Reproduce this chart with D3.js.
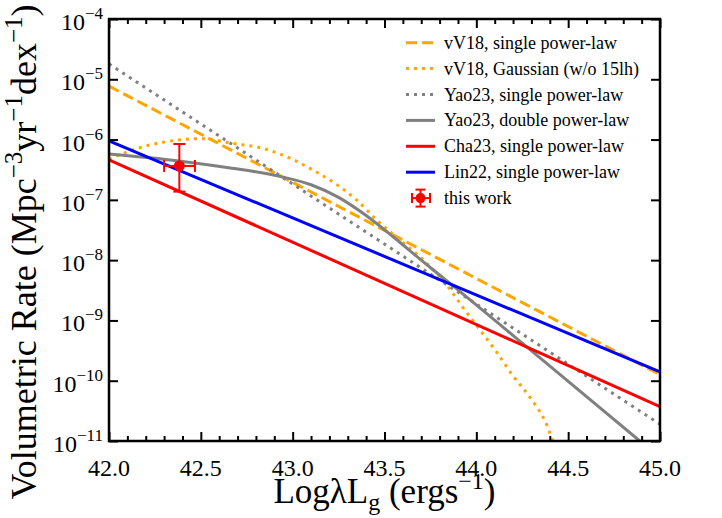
<!DOCTYPE html>
<html>
<head>
<meta charset="utf-8">
<script src="https://cdn.jsdelivr.net/npm/d3@7"></script>
<style>
body { margin: 0; background: #fff; }
</style>
</head>
<body>
<script>
let width = 722, height = 518
let margin = { top: 19, right: 62, bottom: 77, left: 109 }
let serif = 'Liberation Serif'

// straight power laws: values at the two ends of the x range
let lineX = [42.0, 45.0]
let vv18Single = [7.7e-6, 1.26e-10]
let yao23Single = [1.8e-5, 1.9e-11]
let cha23Single = [4.6e-7, 3.7e-11]
let lin22Single = [9.5e-7, 1.4e-10]

// vV18 Gaussian (w/o 15lh)
let gaussX = [42.0, 42.033, 42.187, 42.35, 42.505, 42.668, 42.84, 43.0, 43.103, 43.23, 43.348, 43.457,
    43.584, 43.711, 43.838, 43.929, 44.02, 44.11, 44.2, 44.29, 44.383, 44.417, 44.45]
let gaussY = [4.68e-7, 5.2e-7, 7.62e-7, 9.59e-7, 1.035e-6, 8.69e-7, 7.1e-7, 4.7e-7, 3.21e-7, 1.88e-7, 9.95e-8, 4.65e-8,
    2.16e-8, 1.01e-8, 3.88e-9, 1.61e-9, 6.95e-10, 3.0e-10, 1.2e-10, 5.4e-11, 1.86e-11, 1.0e-11, 6.3e-12]

// Yao23 double power-law
let dplX = [42.0, 42.38, 42.66, 42.93, 43.1, 43.25, 43.4, 43.55, 43.7, 43.85, 44.35, 44.89, 45.0]
let dplY = [5.75e-7, 4.42e-7, 3.39e-7, 2.45e-7, 1.78e-7, 1.10e-7, 5.5e-8, 2.4e-8, 1.0e-8, 4.27e-9, 2.34e-10, 1.0e-11, 5.25e-12]

// this work
let pointX = 42.383, pointXLo = 42.30, pointXHi = 42.468
let pointY = 3.65e-7, pointYLo = 1.37e-7, pointYHi = 8.45e-7

let decades = [-11, -10, -9, -8, -7, -6, -5, -4]
let xMajor = [42.0, 42.5, 43.0, 43.5, 44.0, 44.5, 45.0]

let series = [
    { name: 'vV18, single power-law', xs: lineX, ys: vv18Single, color: '#FFA500', dash: '11,5', curve: false },
    { name: 'vV18, Gaussian (w/o 15lh)', xs: gaussX, ys: gaussY, color: '#FFA500', dash: '3,5', curve: true },
    { name: 'Yao23, single power-law', xs: lineX, ys: yao23Single, color: '#808080', dash: '3,5', curve: false },
    { name: 'Yao23, double power-law', xs: dplX, ys: dplY, color: '#808080', dash: null, curve: true },
    { name: 'Cha23, single power-law', xs: lineX, ys: cha23Single, color: '#FF0000', dash: null, curve: false },
    { name: 'Lin22, single power-law', xs: lineX, ys: lin22Single, color: '#0000FF', dash: null, curve: false }
]

let svg = d3.select('body').append('svg')
    .attr('width', width).attr('height', height)
    .attr('font-family', serif)

let x = d3.scaleLinear().domain([42, 45]).range([margin.left, width - margin.right])
let y = d3.scaleLog().domain([1e-11, 1e-4]).range([height - margin.bottom, margin.top])

// small serif text falls back to sans here, so text is set at twice the size and scaled down
let k = 2
function label(px, py, size, anchor) {
    return svg.append('text')
        .attr('transform', `translate(${px},${py}) scale(${1 / k})`)
        .attr('font-family', serif).style('font-family', serif)
        .attr('font-size', size * k).attr('text-anchor', anchor || 'start')
}

svg.append('clipPath').attr('id', 'clip')
    .append('rect')
    .attr('x', margin.left).attr('y', margin.top)
    .attr('width', width - margin.left - margin.right)
    .attr('height', height - margin.top - margin.bottom)

let plot = svg.append('g').attr('clip-path', 'url(#clip)')

series.forEach(s => {
    let line = d3.line()
        .x(d => x(d[0])).y(d => y(d[1]))
        .curve(s.curve ? d3.curveMonotoneX : d3.curveLinear)
    plot.append('path')
        .datum(s.xs.map((v, i) => [v, s.ys[i]]))
        .attr('d', line)
        .attr('fill', 'none')
        .attr('stroke', s.color)
        .attr('stroke-width', 3)
        .attr('stroke-dasharray', s.dash)
})

// error bar point
let red = '#FF0000'
function errorPoint(g, cx, cy, x0, x1, y0, y1, cap, r) {
    g.append('line').attr('x1', x0).attr('x2', x1).attr('y1', cy).attr('y2', cy)
    g.append('line').attr('x1', cx).attr('x2', cx).attr('y1', y0).attr('y2', y1)
    g.append('line').attr('x1', x0).attr('x2', x0).attr('y1', cy - cap).attr('y2', cy + cap)
    g.append('line').attr('x1', x1).attr('x2', x1).attr('y1', cy - cap).attr('y2', cy + cap)
    g.append('line').attr('x1', cx - cap).attr('x2', cx + cap).attr('y1', y0).attr('y2', y0)
    g.append('line').attr('x1', cx - cap).attr('x2', cx + cap).attr('y1', y1).attr('y2', y1)
    g.selectAll('line').attr('stroke', red).attr('stroke-width', 2)
    g.append('circle').attr('cx', cx).attr('cy', cy).attr('r', r).attr('fill', red)
}
errorPoint(svg.append('g'), x(pointX), y(pointY), x(pointXLo), x(pointXHi), y(pointYHi), y(pointYLo), 6, 5.5)

// axes with inward ticks
let xMinor = d3.range(420, 451).map(d => d / 10).filter(d => !xMajor.some(m => Math.abs(m - d) < 1e-6))
let yTicks = decades.map(d => Math.pow(10, d))
let bottom = height - margin.bottom, right = width - margin.right
let axes = [
    svg.append('g').attr('transform', `translate(0,${bottom})`).call(d3.axisBottom(x).tickValues(xMinor).tickSize(-5).tickFormat('')),
    svg.append('g').attr('transform', `translate(0,${bottom})`).call(d3.axisBottom(x).tickValues(xMajor).tickSize(-9).tickFormat('')),
    svg.append('g').attr('transform', `translate(0,${margin.top})`).call(d3.axisTop(x).tickValues(xMinor).tickSize(-5).tickFormat('')),
    svg.append('g').attr('transform', `translate(0,${margin.top})`).call(d3.axisTop(x).tickValues(xMajor).tickSize(-9).tickFormat('')),
    svg.append('g').attr('transform', `translate(${margin.left},0)`).call(d3.axisLeft(y).tickValues(yTicks).tickSize(-9).tickFormat('')),
    svg.append('g').attr('transform', `translate(${right},0)`).call(d3.axisRight(y).tickValues(yTicks).tickSize(-9).tickFormat(''))
]
axes.forEach(g => {
    g.select('.domain').remove()
    g.selectAll('.tick line').attr('stroke', '#000').attr('stroke-width', 2)
})
svg.append('rect')
    .attr('x', margin.left).attr('y', margin.top)
    .attr('width', right - margin.left).attr('height', bottom - margin.top)
    .attr('fill', 'none').attr('stroke', '#000').attr('stroke-width', 2.5)

// tick labels
xMajor.forEach(d => label(x(d), bottom + 35, 24, 'middle').text(d.toFixed(1)))

decades.forEach(d => {
    let t = label(margin.left - 6, y(Math.pow(10, d)) + 11, 24, 'end')
    t.append('tspan').text('10')
    t.append('tspan').attr('dy', -11 * k).attr('font-size', 17 * k).text('\u2212' + Math.abs(d))
})

// axis titles
let xt = label((margin.left + right) / 2, 503, 35, 'middle')
xt.append('tspan').text('Log\u03bbL')
xt.append('tspan').attr('font-size', 24 * k).attr('dy', 7 * k).text('g')
xt.append('tspan').attr('dy', -7 * k).text(' (ergs')
xt.append('tspan').attr('font-size', 24 * k).attr('dy', -14 * k).text('\u22121')
xt.append('tspan').attr('dy', 14 * k).text(')')

let yt = label(36, 252, 36, 'middle')
yt.attr('transform', `translate(36,252) rotate(-90) scale(${1 / k})`)
yt.append('tspan').text('Volumetric Rate (Mpc')
yt.append('tspan').attr('font-size', 25 * k).attr('dy', -14 * k).text('\u22123')
yt.append('tspan').attr('dy', 14 * k).text('yr')
yt.append('tspan').attr('font-size', 25 * k).attr('dy', -14 * k).text('\u22121')
yt.append('tspan').attr('dy', 14 * k).text('dex')
yt.append('tspan').attr('font-size', 25 * k).attr('dy', -14 * k).text('\u22121')
yt.append('tspan').attr('dy', 14 * k).text(')')

// legend
let legX0 = 406, legX1 = 435, legText = 444, legY0 = 42.7, legStep = 25.9
series.forEach((s, i) => {
    let ly = legY0 + i * legStep
    svg.append('line')
        .attr('x1', legX0).attr('x2', legX1).attr('y1', ly).attr('y2', ly)
        .attr('stroke', s.color).attr('stroke-width', 3)
        .attr('stroke-dasharray', s.dash)
    label(legText, ly + 6, 18).text(s.name)
})
let lyp = legY0 + 6 * legStep
errorPoint(svg.append('g'), (legX0 + legX1) / 2, lyp, 412, 430, lyp - 8.5, lyp + 8.5, 5, 5)
label(legText, lyp + 6, 18).text('this work')
</script>
</body>
</html>
